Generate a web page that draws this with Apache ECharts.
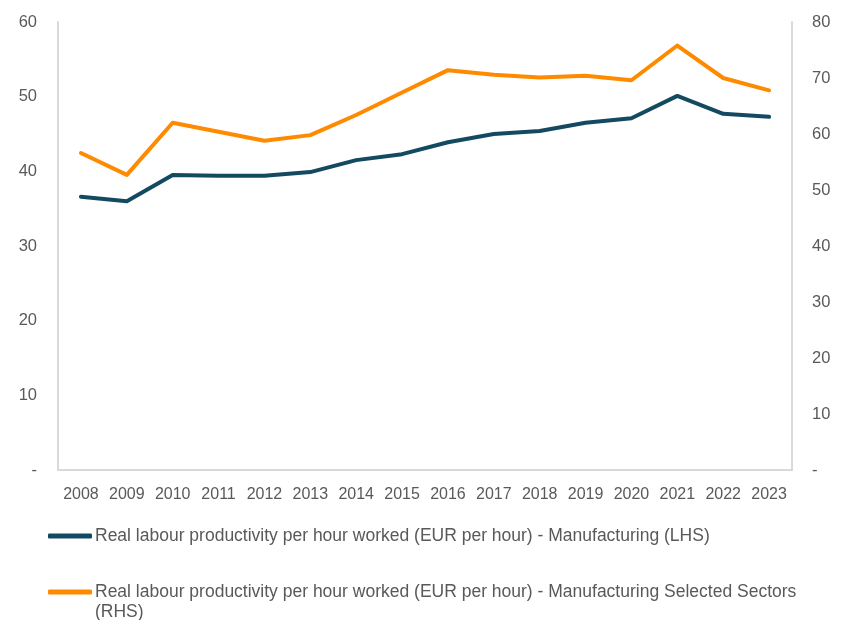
<!DOCTYPE html>
<html>
<head>
<meta charset="utf-8">
<script src="https://cdn.jsdelivr.net/npm/echarts@6/dist/echarts.min.js"></script>
<style>
  html, body { margin: 0; padding: 0; background: #fff; }
  #chart { width: 850px; height: 620px; }
</style>
</head>
<body>
<div id="chart"></div>
<script>
const years = ['2008', '2009', '2010', '2011', '2012', '2013', '2014', '2015',
               '2016', '2017', '2018', '2019', '2020', '2021', '2022', '2023'];

// EUR per hour, left axis
const manufacturing = [36.6, 36.0, 39.5, 39.4, 39.4, 39.9, 41.5, 42.3,
                       43.9, 45.0, 45.4, 46.5, 47.1, 50.1, 47.7, 47.3];

// EUR per hour, right axis
const selectedSectors = [56.6, 52.7, 62.0, 60.4, 58.8, 59.8, 63.4, 67.4,
                         71.4, 70.6, 70.1, 70.4, 69.6, 75.8, 70.0, 67.8];

const nameLhs = 'Real labour productivity per hour worked (EUR per hour) - Manufacturing (LHS)';
const nameRhs = 'Real labour productivity per hour worked (EUR per hour) - Manufacturing Selected Sectors (RHS)';

const chart = echarts.init(document.getElementById('chart'));

const FONT = '"Liberation Sans", Arial, sans-serif';
const GREY_TEXT = '#595959';
const AXIS_LINE = '#d9d9d9';

const dash = (v) => (v === 0 ? '-' : String(v));

const option = {
  animation: false,
  textStyle: { fontFamily: FONT },
  grid: { left: 58, right: 58, top: 22, bottom: 150, containLabel: false },
  legend: [
    {
      data: [nameLhs],
      left: 48,
      top: 527,
      padding: 0,
      icon: 'roundRect',
      itemWidth: 44,
      itemHeight: 5,
      itemGap: 0,
      textStyle: { fontSize: 17.5, color: GREY_TEXT, fontFamily: FONT, padding: [0, 0, 0, -2] },
      selectedMode: false
    },
    {
      data: [nameRhs],
      left: 48,
      top: 562,
      padding: 0,
      icon: 'roundRect',
      itemWidth: 44,
      itemHeight: 5,
      itemGap: 0,
      // empty first line keeps the icon level with the first text line
      formatter: (name) => '\n' + name,
      textStyle: {
        fontSize: 17.5, color: GREY_TEXT, fontFamily: FONT,
        width: 725, overflow: 'break', lineHeight: 20,
        padding: [0, 0, 0, -2]
      },
      selectedMode: false
    }
  ],
  xAxis: {
    type: 'category',
    data: years,
    boundaryGap: true,
    axisLine: { show: true, lineStyle: { color: AXIS_LINE, width: 2 } },
    axisTick: { show: false },
    axisLabel: { fontSize: 16, color: GREY_TEXT, margin: 17, interval: 0 }
  },
  yAxis: [
    {
      type: 'value',
      min: 0,
      max: 60,
      interval: 10,
      position: 'left',
      axisLine: { show: true, lineStyle: { color: AXIS_LINE, width: 2 } },
      axisTick: { show: false },
      splitLine: { show: false },
      axisLabel: { fontSize: 16.5, color: GREY_TEXT, margin: 21, formatter: dash }
    },
    {
      type: 'value',
      min: 0,
      max: 80,
      interval: 10,
      position: 'right',
      axisLine: { show: true, lineStyle: { color: AXIS_LINE, width: 2 } },
      axisTick: { show: false },
      splitLine: { show: false },
      axisLabel: { fontSize: 16.5, color: GREY_TEXT, margin: 20, formatter: dash }
    }
  ],
  series: [
    {
      name: nameLhs,
      type: 'line',
      yAxisIndex: 0,
      data: manufacturing,
      symbol: 'none',
      lineStyle: { color: '#134a62', width: 4, cap: 'round', join: 'round' },
      itemStyle: { color: '#134a62' }
    },
    {
      name: nameRhs,
      type: 'line',
      yAxisIndex: 1,
      data: selectedSectors,
      symbol: 'none',
      lineStyle: { color: '#ff8a00', width: 4, cap: 'round', join: 'round' },
      itemStyle: { color: '#ff8a00' }
    }
  ]
};

chart.setOption(option);
</script>
</body>
</html>
